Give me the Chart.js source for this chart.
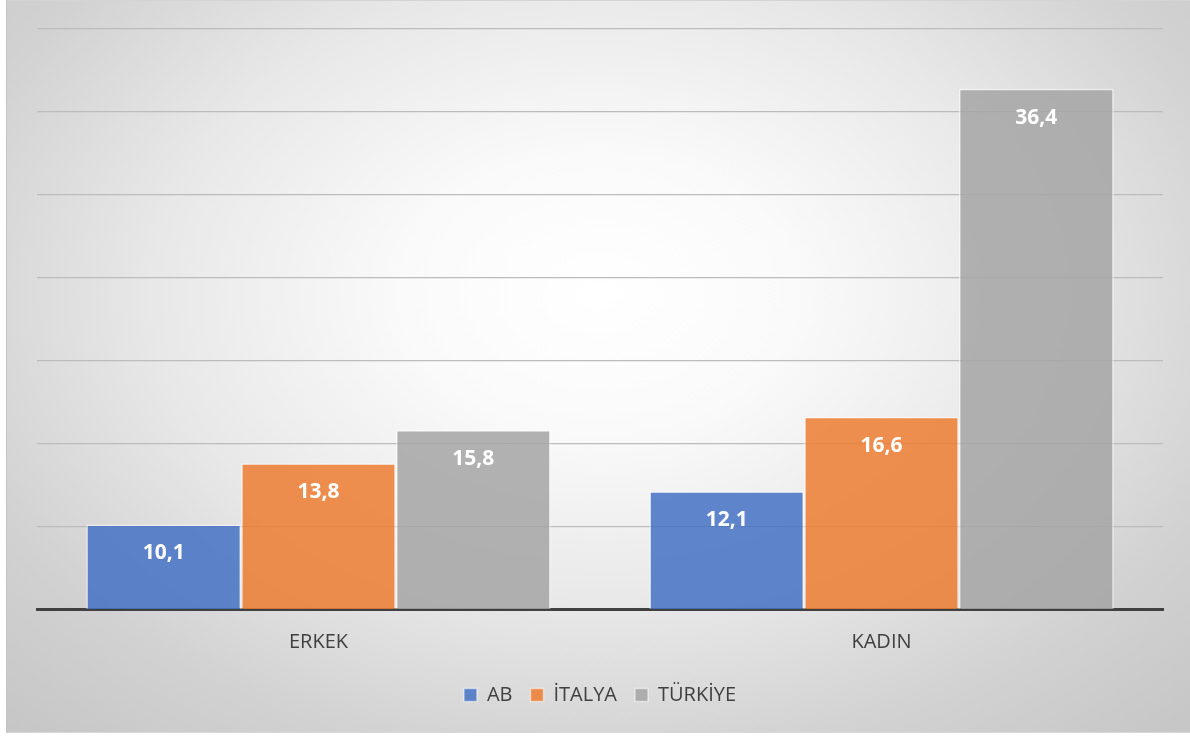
<!DOCTYPE html>
<html>
<head>
<meta charset="utf-8">
<script src="https://cdn.jsdelivr.net/npm/chart.js@4.4.1/dist/chart.umd.min.js"></script>
<style>
  body { margin: 0; background: #ffffff; }
  #box {
    position: absolute; left: 6px; top: 0; width: 1184px; height: 733px;
    border-left: 1px solid #c4c4c4; border-top: 1px solid #d4d4d4; border-bottom: 1px solid #d8d8d8;
    box-sizing: border-box;
    background: radial-gradient(ellipse 75% 85% at 50% 40%, #ffffff 0%, #fafafa 22%, #e8e8e8 50%, #d2d2d2 75%, #c4c4c4 100%);
  }
</style>
</head>
<body>
<div id="box"><canvas id="chart-rates"></canvas></div>
<script>
var categories = ['ERKEK', 'KADIN'];
var seriesNames = ['AB', 'İTALYA', 'TÜRKİYE'];
var abValues = [10.1, 12.1];
var italyaValues = [13.8, 16.6];
var turkiyeValues = [15.8, 36.4];
var yTicks = [5, 10, 15, 20, 25, 30, 35, 40];

var fontName = '"Open Sans", "Liberation Sans", sans-serif';

// white value labels near the top of each bar, with decimal comma
var valueLabels = {
  id: 'valueLabels',
  afterDatasetsDraw: function(chart) {
    var ctx = chart.ctx;
    ctx.save();
    ctx.fillStyle = '#ffffff';
    ctx.font = 'bold 21px ' + fontName;
    ctx.textAlign = 'center';
    ctx.textBaseline = 'middle';
    chart.data.datasets.forEach(function(ds, i) {
      chart.getDatasetMeta(i).data.forEach(function(bar, j) {
        var txt = ds.data[j].toString().replace('.', ',');
        ctx.fillText(txt, bar.x, bar.y + 29);
      });
    });
    ctx.restore();
  }
};

new Chart(document.getElementById('chart-rates'), {
  type: 'bar',
  data: {
    labels: categories,
    datasets: [{
      label: seriesNames[0],
      data: abValues,
      backgroundColor: 'rgba(68,114,196,0.85)',
      borderColor: 'rgba(255,255,255,0.5)',
      borderWidth: 1.5
    }, {
      label: seriesNames[1],
      data: italyaValues,
      backgroundColor: 'rgba(237,125,49,0.85)',
      borderColor: 'rgba(255,255,255,0.5)',
      borderWidth: 1.5
    }, {
      label: seriesNames[2],
      data: turkiyeValues,
      backgroundColor: 'rgba(165,165,165,0.85)',
      borderColor: 'rgba(255,255,255,0.5)',
      borderWidth: 1.5
    }]
  },
  options: {
    responsive: true,
    maintainAspectRatio: false,
    animation: false,
    categoryPercentage: 0.825,
    barPercentage: 1.0,
    layout: { padding: { left: 30, right: 27, top: 28, bottom: 17 } },
    plugins: {
      tooltip: { enabled: false },
      legend: {
        position: 'bottom',
        labels: {
          boxWidth: 13,
          boxHeight: 13,
          padding: 18,
          color: '#404040',
          font: { family: fontName, size: 20 }
        }
      }
    },
    scales: {
      x: {
        grid: { display: false, drawTicks: false },
        border: { display: true, color: '#404040', width: 3 },
        ticks: { color: '#404040', padding: 21, font: { family: fontName, size: 20 } },
        afterFit: function(scale) { scale.height = 58; }
      },
      y: {
        min: yTicks[0],
        max: yTicks[yTicks.length - 1],
        afterBuildTicks: function(scale) {
          scale.ticks = yTicks.map(function(v) { return { value: v }; });
        },
        border: { display: false },
        grid: {
          drawTicks: false,
          lineWidth: 1.2,
          color: function(c) { return c.tick && c.tick.value === yTicks[0] ? 'rgba(0,0,0,0)' : '#bcbcbc'; }
        },
        ticks: { display: false }
      }
    }
  },
  plugins: [valueLabels]
});
</script>
</body>
</html>
